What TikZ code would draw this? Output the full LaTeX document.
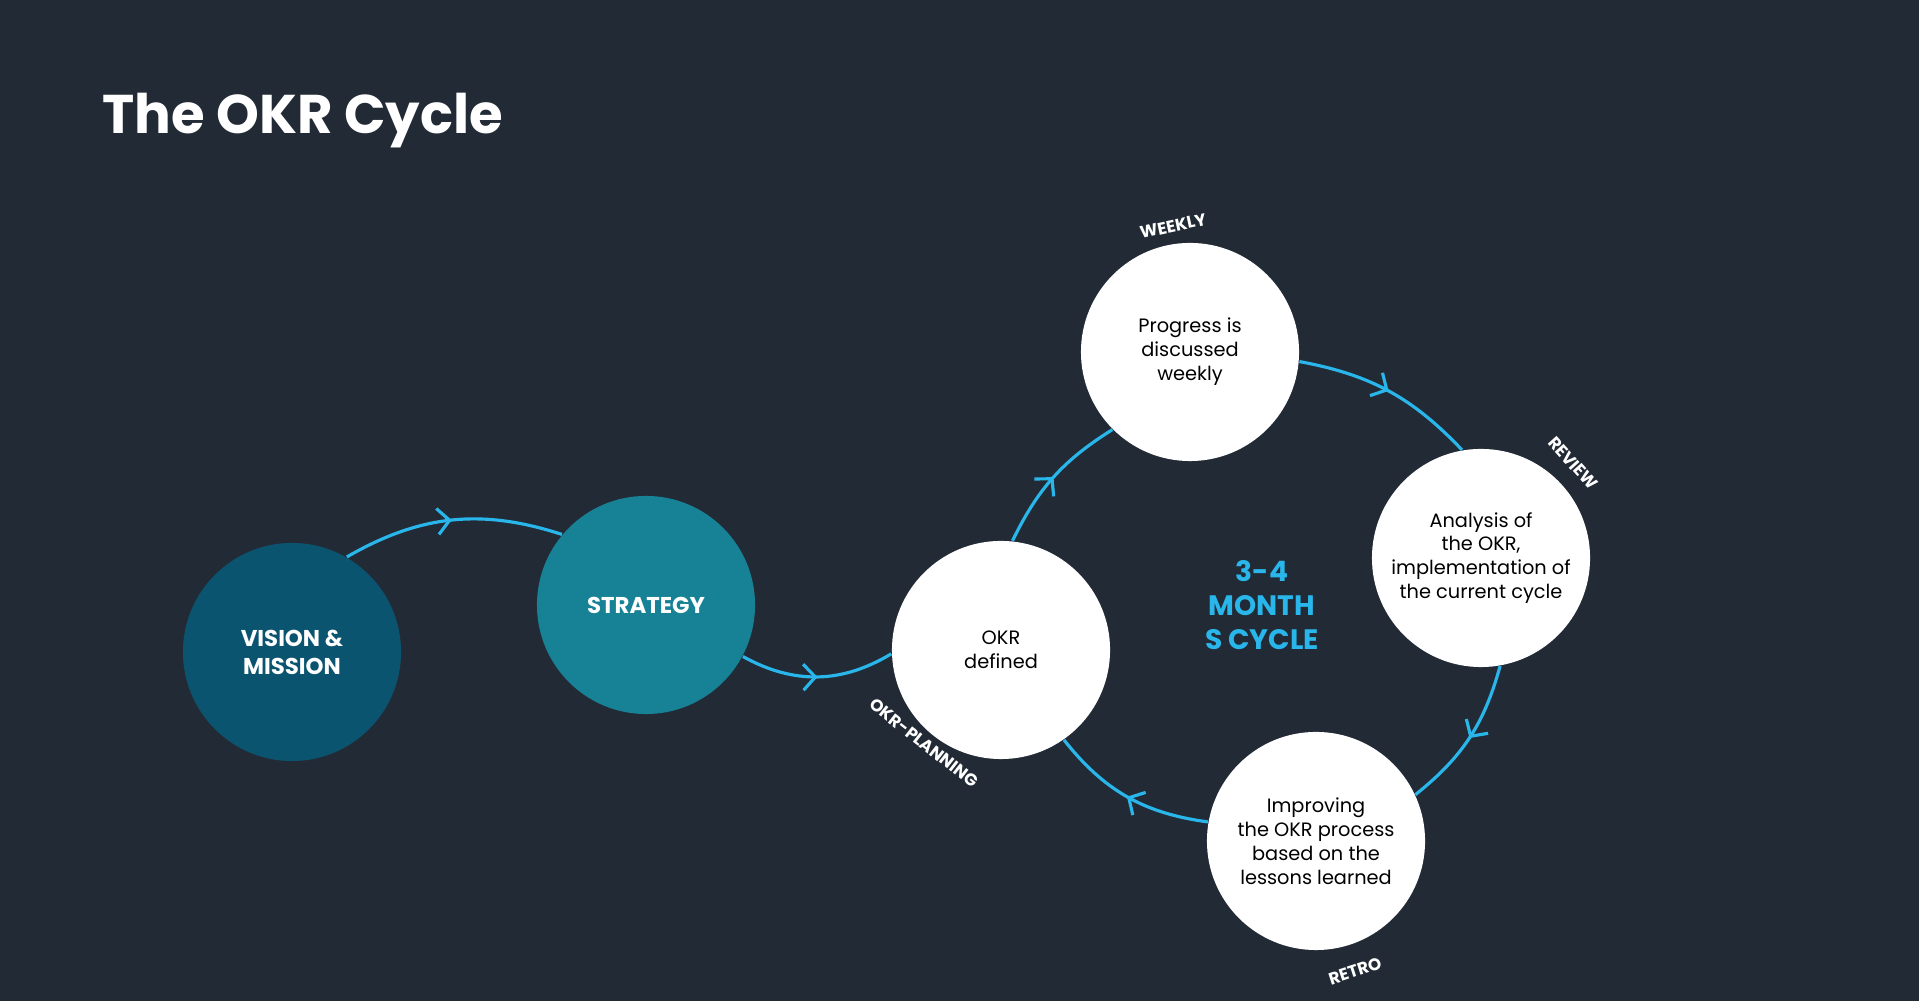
\documentclass[tikz,border=0pt]{standalone}
\usepackage{fontspec}
\setmainfont{Poppins}
\usetikzlibrary{decorations.markings,arrows.meta}
\definecolor{bg}{HTML}{222A36}
\definecolor{vision}{HTML}{0B5470}
\definecolor{strat}{HTML}{178196}
\definecolor{cyan}{HTML}{29B6EA}
\tikzset{
  stage/.style={circle,fill=white,minimum size=2.18cm,inner sep=0pt,align=center,text=black,font=\fontsize{5.5}{6.8}\selectfont},
  dark/.style={circle,minimum size=2.18cm,inner sep=0pt,align=center,text=white,font=\fontsize{6.5}{8}\selectfont\bfseries},
  flow/.style={cyan,line width=0.9pt,postaction={decorate},decoration={markings,mark=at position 0.5 with {\arrow{Straight Barb[length=1.2mm,width=2.6mm]}}}},
  tag/.style={text=white,font=\fontsize{4.8}{6}\selectfont\bfseries}
}
\begin{document}
\begin{tikzpicture}[x=0.01cm,y=0.01cm]
\fill[bg] (0,0) rectangle (1919,1001);
\useasboundingbox (0,0) rectangle (1919,1001);

\node[anchor=west,text=white,font=\fontsize{15.5}{18}\selectfont\bfseries] (title) at (90,880) {The OKR Cycle};

\node[dark,fill=vision] (vision) at (292,349) {VISION \&\\MISSION};
\node[dark,fill=strat] (strategy) at (646,396) {STRATEGY};
\node[stage] (okr) at (1001,351) {OKR\\defined};
\node[stage] (progress) at (1190,649) {Progress is\\discussed\\weekly};
\node[stage] (analysis) at (1481,443) {Analysis of\\the OKR,\\implementation of\\the current cycle};
\node[stage] (improve) at (1316,160) {Improving\\the OKR process\\based on the\\lessons learned};

\node[text=cyan,align=center,font=\fontsize{8}{9.7}\selectfont\bfseries] (cycle) at (1262,396) {3-4\\MONTH\\S CYCLE};

% connectors
\draw[flow] (vision.60) to[bend left=24] (strategy.140);
\draw[flow] (strategy.-28) to[bend right=30] (okr.182);
\draw[flow] (okr.84) to[bend left=16] (progress.-135);
\draw[flow] (progress.-5) to[bend left=18] (analysis.100);
\draw[flow] (analysis.-80) to[bend left=18] (improve.25);
\draw[flow] (improve.170) to[bend left=22] (okr.-55);

% tags
\node[tag,rotate=12] (weekly) at (1173,775) {WEEKLY};
\node[tag,rotate=-48] (review) at (1573,538) {REVIEW};
\node[tag,rotate=18] (retro) at (1355,30) {RETRO};
\node[tag,rotate=-38] (planning) at (924,258) {OKR-PLANNING};
\end{tikzpicture}
\end{document}
